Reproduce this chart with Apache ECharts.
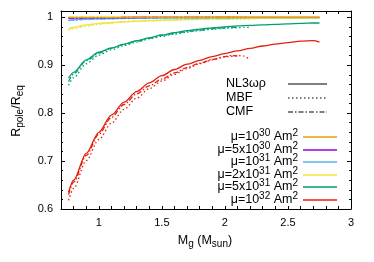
<!DOCTYPE html>
<html><head><meta charset="utf-8">
<script src="https://cdn.jsdelivr.net/npm/echarts@6/dist/echarts.min.js"></script>
<style>html,body{margin:0;padding:0;background:#fff}#c{width:374px;height:262px}</style>
</head><body><div id="c"></div>
<script>
// ---- data ----
const massNL3 = [0.76,0.8,0.9,1.0,1.1,1.2,1.3,1.4,1.5,1.6,1.7,1.8,1.9,2.0,2.1,2.2,2.3,2.4,2.5,2.6,2.7,2.75];
const nl3_1e30 = [0.9997,0.9997,0.9998,0.9998,0.9998,0.9999,0.9999,0.9999,0.9999,0.9999,0.9999,0.9999,0.9999,1.0,1.0,1.0,1.0,1.0,1.0,1.0,1.0,1.0];
const nl3_5e30 = [0.9985,0.9987,0.9990,0.9992,0.9993,0.9994,0.9995,0.9995,0.9996,0.9996,0.9997,0.9997,0.9997,0.9997,0.9998,0.9998,0.9998,0.9998,0.9998,0.9998,0.9998,0.9998];
const nl3_1e31 = [0.9940,0.9948,0.9960,0.9968,0.9974,0.9978,0.9981,0.9983,0.9985,0.9987,0.9988,0.9989,0.9990,0.9991,0.9991,0.9992,0.9992,0.9993,0.9993,0.9993,0.9993,0.9993];
const nl3_2e31 = [0.976,0.979,0.984,0.987,0.989,0.991,0.992,0.993,0.994,0.995,0.9955,0.996,0.9965,0.997,0.997,0.9973,0.9975,0.9977,0.9978,0.9978,0.9979,0.9979];
const nl3_5e31 = [0.873,0.885,0.911,0.927,0.936,0.944,0.951,0.957,0.963,0.968,0.972,0.975,0.978,0.980,0.982,0.983,0.984,0.985,0.986,0.987,0.988,0.988];
const nl3_1e32 = [0.635,0.660,0.716,0.760,0.796,0.823,0.845,0.863,0.878,0.891,0.902,0.910,0.918,0.924,0.930,0.935,0.940,0.944,0.947,0.950,0.951,0.948];

const massMBF = [0.76,0.8,0.9,1.0,1.1,1.2,1.3,1.4,1.5,1.6,1.7,1.8,1.9,2.0,2.1,2.15,2.19];
const mbf_1e30 = [0.9996,0.9996,0.9997,0.9997,0.9998,0.9998,0.9998,0.9998,0.9999,0.9999,0.9999,0.9999,0.9999,0.9999,0.9999,0.9999,0.9999];
const mbf_5e30 = [0.9982,0.9984,0.9988,0.9990,0.9992,0.9993,0.9994,0.9994,0.9995,0.9995,0.9996,0.9996,0.9996,0.9996,0.9996,0.9996,0.9996];
const mbf_1e31 = [0.9925,0.9935,0.9950,0.9960,0.9967,0.9972,0.9976,0.9979,0.9981,0.9983,0.9984,0.9985,0.9986,0.9986,0.9987,0.9987,0.9986];
const mbf_2e31 = [0.972,0.976,0.981,0.985,0.988,0.990,0.991,0.992,0.993,0.994,0.9945,0.995,0.9953,0.9955,0.9956,0.9956,0.9955];
const mbf_5e31 = [0.858,0.874,0.903,0.921,0.932,0.941,0.948,0.955,0.960,0.965,0.969,0.972,0.975,0.977,0.978,0.979,0.979];
const mbf_1e32 = [0.618,0.643,0.701,0.745,0.779,0.808,0.831,0.851,0.867,0.881,0.893,0.903,0.911,0.917,0.920,0.919,0.913];

const massCMF = [0.76,0.8,0.9,1.0,1.1,1.2,1.3,1.4,1.5,1.6,1.7,1.8,1.9,2.0,2.05,2.1];
const cmf_1e30 = [0.9997,0.9997,0.9997,0.9998,0.9998,0.9998,0.9999,0.9999,0.9999,0.9999,0.9999,0.9999,0.9999,0.9999,0.9999,0.9999];
const cmf_5e30 = [0.9984,0.9986,0.9989,0.9991,0.9993,0.9994,0.9994,0.9995,0.9995,0.9996,0.9996,0.9996,0.9997,0.9997,0.9997,0.9997];
const cmf_1e31 = [0.9935,0.9943,0.9956,0.9965,0.9971,0.9975,0.9979,0.9981,0.9983,0.9985,0.9986,0.9987,0.9988,0.9989,0.9989,0.9989];
const cmf_2e31 = [0.975,0.978,0.983,0.986,0.9885,0.9905,0.9915,0.9925,0.9935,0.9945,0.995,0.9955,0.996,0.9962,0.9963,0.9963];
const cmf_5e31 = [0.866,0.882,0.909,0.925,0.935,0.943,0.950,0.956,0.962,0.966,0.970,0.973,0.976,0.978,0.979,0.979];
const cmf_1e32 = [0.630,0.656,0.712,0.756,0.791,0.818,0.840,0.857,0.871,0.884,0.895,0.904,0.912,0.918,0.920,0.919];

const muPrefix = ['μ=10','μ=5x10','μ=10','μ=2x10','μ=5x10','μ=10'];
const muExp = ['30','30','31','31','31','32'];
const eosNames = ['NL3ωρ','MBF','CMF'];
const xTickLabels = ['1','1.5','2','2.5','3'];
const yTickLabels = ['0.6','0.7','0.8','0.9','1'];

// ---- styling ----
const colors = ['#e69f00','#9400d3','#56b4e9','#f0e442','#009e73','#e51e10'];
const dashes = ['solid',[1.5,2.5],[5,2,1.5,2]];
const FONT = 'Liberation Sans, Arial, sans-serif';

const nl3 = [nl3_1e30,nl3_5e30,nl3_1e31,nl3_2e31,nl3_5e31,nl3_1e32];
const mbf = [mbf_1e30,mbf_5e30,mbf_1e31,mbf_2e31,mbf_5e31,mbf_1e32];
const cmf = [cmf_1e30,cmf_5e30,cmf_1e31,cmf_2e31,cmf_5e31,cmf_1e32];
const eos = [[massNL3,nl3],[massMBF,mbf],[massCMF,cmf]];

const series = [];
// draw red first, orange last
for (let i = 5; i >= 0; i--) {
  eos.forEach(([mass, vals], k) => {
    series.push({
      type: 'line', xAxisIndex: 0, yAxisIndex: 0,
      data: mass.map((m, j) => [m, vals[i][j]]),
      showSymbol: false, smooth: 0.3, smoothMonotone: 'x',
      lineStyle: { color: colors[i], width: 1.3, type: dashes[k] },
      z: 2 + (5 - i), silent: true, animation: false
    });
  });
}

const axisCommonX = {
  type: 'value', min: 0.7, max: 3, interval: 0.1,
  axisLine: { show: true, onZero: false, lineStyle: { color: '#000', width: 1 } },
  axisTick: { show: true, inside: true, length: 3, lineStyle: { color: '#000' } },
  splitLine: { show: false }
};
const axisCommonY = {
  type: 'value', min: 0.6, max: 1.013, interval: 0.1,
  axisLine: { show: true, onZero: false, lineStyle: { color: '#000', width: 1 } },
  axisTick: { show: true, inside: true, length: 4, lineStyle: { color: '#000' } },
  minorTick: { show: true, splitNumber: 5, length: 2, lineStyle: { color: '#000' } },
  splitLine: { show: false }
};

function xLabel(v) {
  const r = Math.round(v * 2) / 2;
  if (Math.abs(v - r) > 1e-6) return '';
  const s = String(r);
  return xTickLabels.indexOf(s) >= 0 ? s : '';
}
function yLabel(v) {
  const r = Math.round(v * 10) / 10;
  if (Math.abs(v - r) > 1e-6) return '';
  const s = String(r);
  return yTickLabels.indexOf(s) >= 0 ? s : '';
}

const rich = {
  n: { fontSize: 12.5, fontFamily: FONT, color: '#000' },
  sup: { fontSize: 10, fontFamily: FONT, color: '#000', lineHeight: 11, padding: [0,0,8,0] },
  sub: { fontSize: 10, fontFamily: FONT, color: '#000', lineHeight: 11, padding: [7,0,0,0] }
};

const graphic = [];
// axis titles
graphic.push({
  type: 'text', x: 17, y: 111, rotation: Math.PI / 2,
  style: { text: '{n|R}{sub|pole}{n|/R}{sub|eq}', rich, align: 'center', verticalAlign: 'middle' }
});
graphic.push({
  type: 'text', x: 205, y: 241,
  style: { text: '{n|M}{sub|g}{n| (M}{sub|sun}{n|)}', rich, align: 'center', verticalAlign: 'middle' }
});
// EOS legend
const eosY = [84, 98, 112];
eosNames.forEach((name, k) => {
  graphic.push({ type: 'text', x: 226, y: eosY[k],
    style: { text: name, fontSize: 12.5, fontFamily: FONT, fill: '#000', align: 'left', verticalAlign: 'middle' } });
  graphic.push({ type: 'line', shape: { x1: 288, y1: eosY[k], x2: 327, y2: eosY[k] },
    style: { stroke: '#000', lineWidth: 1.2, lineDash: k === 0 ? null : dashes[k] } });
});
// mu legend
const muY = [137, 150, 162, 175, 187, 200];
muPrefix.forEach((p, i) => {
  graphic.push({ type: 'text', x: 298, y: muY[i],
    style: { text: '{n|' + p + '}{sup|' + muExp[i] + '}{n| Am}{sup|2}', rich, align: 'right', verticalAlign: 'middle' } });
  graphic.push({ type: 'line', shape: { x1: 303, y1: muY[i], x2: 337, y2: muY[i] },
    style: { stroke: colors[i], lineWidth: 1.5 } });
});

const chart = echarts.init(document.getElementById('c'), null, { renderer: 'canvas' });
chart.setOption({
  animation: false,
  backgroundColor: '#fff',
  grid: { left: 61, right: 23, top: 11, bottom: 53, containLabel: false },
  xAxis: [
    Object.assign({}, axisCommonX, { position: 'bottom',
      axisLabel: { show: true, margin: 8, fontSize: 11, fontFamily: FONT, color: '#000', formatter: xLabel } }),
    Object.assign({}, axisCommonX, { position: 'top', axisLabel: { show: false } })
  ],
  yAxis: [
    Object.assign({}, axisCommonY, { position: 'left',
      axisLabel: { show: true, margin: 8, fontSize: 11, fontFamily: FONT, color: '#000', formatter: yLabel } }),
    Object.assign({}, axisCommonY, { position: 'right', axisLabel: { show: false } })
  ],
  series,
  graphic
});
</script></body></html>
